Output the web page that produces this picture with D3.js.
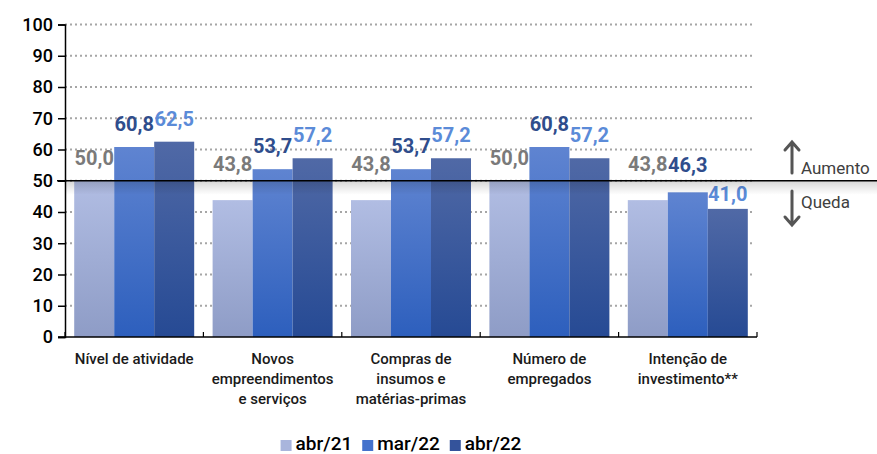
<!DOCTYPE html>
<html>
<head>
<meta charset="utf-8">
<script src="https://cdn.jsdelivr.net/npm/d3@7"></script>
<style>
  body { margin: 0; background: #fff; }
  svg { display: block; font-family: Roboto, "Noto Sans", sans-serif; }
</style>
</head>
<body>
<svg id="chart" width="877" height="454"></svg>
<script>
// data
var categories = [
  ['Nível de atividade'],
  ['Novos', 'empreendimentos', 'e serviços'],
  ['Compras de', 'insumos e', 'matérias-primas'],
  ['Número de', 'empregados'],
  ['Intenção de', 'investimento**']
];
var seriesNames = ['abr/21', 'mar/22', 'abr/22'];
var abr21 = [50.0, 43.8, 43.8, 50.0, 43.8];
var mar22 = [60.8, 53.7, 53.7, 60.8, 46.3];
var abr22 = [62.5, 57.2, 57.2, 57.2, 41.0];
var yTicks = [0, 10, 20, 30, 40, 50, 60, 70, 80, 90, 100];
var neutral = 50;

var seriesValues = [abr21, mar22, abr22];
var barTop = ['#b1bde3', '#5f84d1', '#5069a6'];
var barBottom = ['#8e9cc6', '#2d5fbd', '#264a94'];
var swatch = ['#a9b5dc', '#4472cc', '#34539b'];
var labelColor = ['#7a7a7a', '#2f4d8c', '#5b8bd8'];

var svg = d3.select('#chart'),
    plotLeft = 65, plotRight = 757, plotTop = 24.5, plotBottom = 337;

var x0 = d3.scaleBand()
  .domain(d3.range(categories.length))
  .range([plotLeft, plotRight])
  .paddingInner(0.133)
  .paddingOuter(0.0665);
var x1 = d3.scaleBand()
  .domain(seriesNames)
  .range([0, x0.bandwidth()]);
var y = d3.scaleLinear().domain([0, 100]).range([plotBottom, plotTop]);

var defs = svg.append('defs');
seriesNames.forEach(function(s, i) {
  var g = defs.append('linearGradient')
    .attr('id', 'grad' + i)
    .attr('x1', 0).attr('y1', 0).attr('x2', 0).attr('y2', 1);
  g.append('stop').attr('offset', '0%').attr('stop-color', barTop[i]);
  g.append('stop').attr('offset', '100%').attr('stop-color', barBottom[i]);
});
var sh = defs.append('linearGradient')
  .attr('id', 'shadow')
  .attr('x1', 0).attr('y1', 0).attr('x2', 0).attr('y2', 1);
sh.append('stop').attr('offset', '0%').attr('stop-color', '#000').attr('stop-opacity', 0.16);
sh.append('stop').attr('offset', '100%').attr('stop-color', '#000').attr('stop-opacity', 0);

// gridlines
svg.append('g').selectAll('line')
  .data(yTicks.filter(function(d) { return d > 0; }))
  .join('line')
  .attr('x1', plotLeft).attr('x2', 755)
  .attr('y1', function(d) { return y(d); })
  .attr('y2', function(d) { return y(d); })
  .attr('stroke', '#a6a6a6')
  .attr('stroke-width', 2)
  .attr('stroke-dasharray', '2,3');

// bars
var groups = svg.append('g').selectAll('g')
  .data(categories)
  .join('g')
  .attr('transform', function(d, i) { return 'translate(' + x0(i) + ',0)'; });

groups.selectAll('rect')
  .data(function(d, i) {
    return seriesNames.map(function(s, j) { return { s: s, j: j, v: seriesValues[j][i] }; });
  })
  .join('rect')
  .attr('x', function(d) { return x1(d.s); })
  .attr('width', x1.bandwidth())
  .attr('y', function(d) { return y(d.v); })
  .attr('height', function(d) { return y(0) - y(d.v); })
  .attr('fill', function(d) { return 'url(#grad' + d.j + ')'; });

// shadow under the 50 line
svg.append('rect')
  .attr('x', plotLeft).attr('width', 877 - plotLeft)
  .attr('y', y(neutral)).attr('height', 14)
  .attr('fill', 'url(#shadow)');

svg.append('line')
  .attr('x1', 57).attr('x2', 877)
  .attr('y1', y(neutral)).attr('y2', y(neutral))
  .attr('stroke', '#000').attr('stroke-width', 1.5);

// value labels
var fmt = function(v) { return d3.format('.1f')(v).replace('.', ','); };
groups.selectAll('text.val')
  .data(function(d, i) {
    return seriesNames.map(function(s, j) { return { s: s, j: j, v: seriesValues[j][i] }; });
  })
  .join('text')
  .attr('class', 'val')
  .attr('x', function(d) { return x1(d.s) + x1.bandwidth() / 2; })
  .attr('y', function(d) {
    if (d.j === 0) return Math.min(y(d.v) - 16, y(neutral) - 10);
    if (d.j === 2 && d.v < neutral) return y(d.v) - 8;
    if (d.j === 1 && d.v < neutral) return y(d.v) - 20;
    return y(d.v) - 16;
  })
  .attr('text-anchor', 'middle')
  .attr('font-size', 20)
  .attr('font-weight', 700)
  .attr('fill', function(d) { return labelColor[d.j]; })
  .text(function(d) { return fmt(d.v); });

// y axis
var yAxis = svg.append('g')
  .attr('transform', 'translate(' + plotLeft + ',0)')
  .call(d3.axisLeft(y).tickValues(yTicks).tickSize(7).tickPadding(5));
yAxis.select('.domain').attr('stroke', '#000').attr('stroke-width', 1.5);
yAxis.selectAll('.tick line').attr('stroke', '#000').attr('stroke-width', 1.5);
yAxis.selectAll('.tick text')
  .attr('font-family', 'Roboto, sans-serif')
  .attr('font-size', 18)
  .attr('font-weight', 500)
  .attr('fill', '#000');

// x axis
svg.append('line')
  .attr('x1', plotLeft - 7).attr('x2', plotRight)
  .attr('y1', y(0)).attr('y2', y(0))
  .attr('stroke', '#000').attr('stroke-width', 1.5);
svg.append('g').selectAll('line')
  .data(d3.range(categories.length + 1))
  .join('line')
  .attr('x1', function(i) { return plotLeft + i * x0.step(); })
  .attr('x2', function(i) { return plotLeft + i * x0.step(); })
  .attr('y1', y(0)).attr('y2', y(0) - 5)
  .attr('stroke', '#000').attr('stroke-width', 1.2);

// category labels
svg.append('g').selectAll('text')
  .data(categories)
  .join('text')
  .attr('text-anchor', 'middle')
  .attr('font-size', 15)
  .attr('font-weight', 500)
  .attr('fill', '#1a1a1a')
  .each(function(lines, i) {
    d3.select(this).selectAll('tspan')
      .data(lines)
      .join('tspan')
      .attr('x', x0(i) + x0.bandwidth() / 2)
      .attr('y', function(d, k) { return 364 + k * 20; })
      .text(function(d) { return d; });
  });

// annotation arrows
var ann = svg.append('g').attr('stroke', '#555').attr('stroke-width', 3)
  .attr('fill', 'none').attr('stroke-linecap', 'round');
ann.append('path').attr('d', 'M792,173V143M785,150L792,142L799,150');
ann.append('path').attr('d', 'M792,191V224M785,217L792,225L799,217');
svg.append('text').attr('x', 801).attr('y', 174)
  .attr('font-size', 17).attr('fill', '#404040').text('Aumento');
svg.append('text').attr('x', 801).attr('y', 208)
  .attr('font-size', 17).attr('fill', '#404040').text('Queda');

// legend
var legend = svg.append('g');
var lx = 0;
seriesNames.forEach(function(s, i) {
  var g = legend.append('g').attr('transform', 'translate(' + lx + ',0)');
  g.append('rect').attr('x', 0).attr('y', 440).attr('width', 11).attr('height', 11)
    .attr('fill', swatch[i]);
  var t = g.append('text').attr('x', 15).attr('y', 450)
    .attr('font-size', 19).attr('font-weight', 500).attr('fill', '#000').text(s);
  lx += 15 + t.node().getComputedTextLength() + 10;
});
var lw = lx - 10;
legend.attr('transform', 'translate(' + (401 - lw / 2) + ',0)');
</script>
</body>
</html>
